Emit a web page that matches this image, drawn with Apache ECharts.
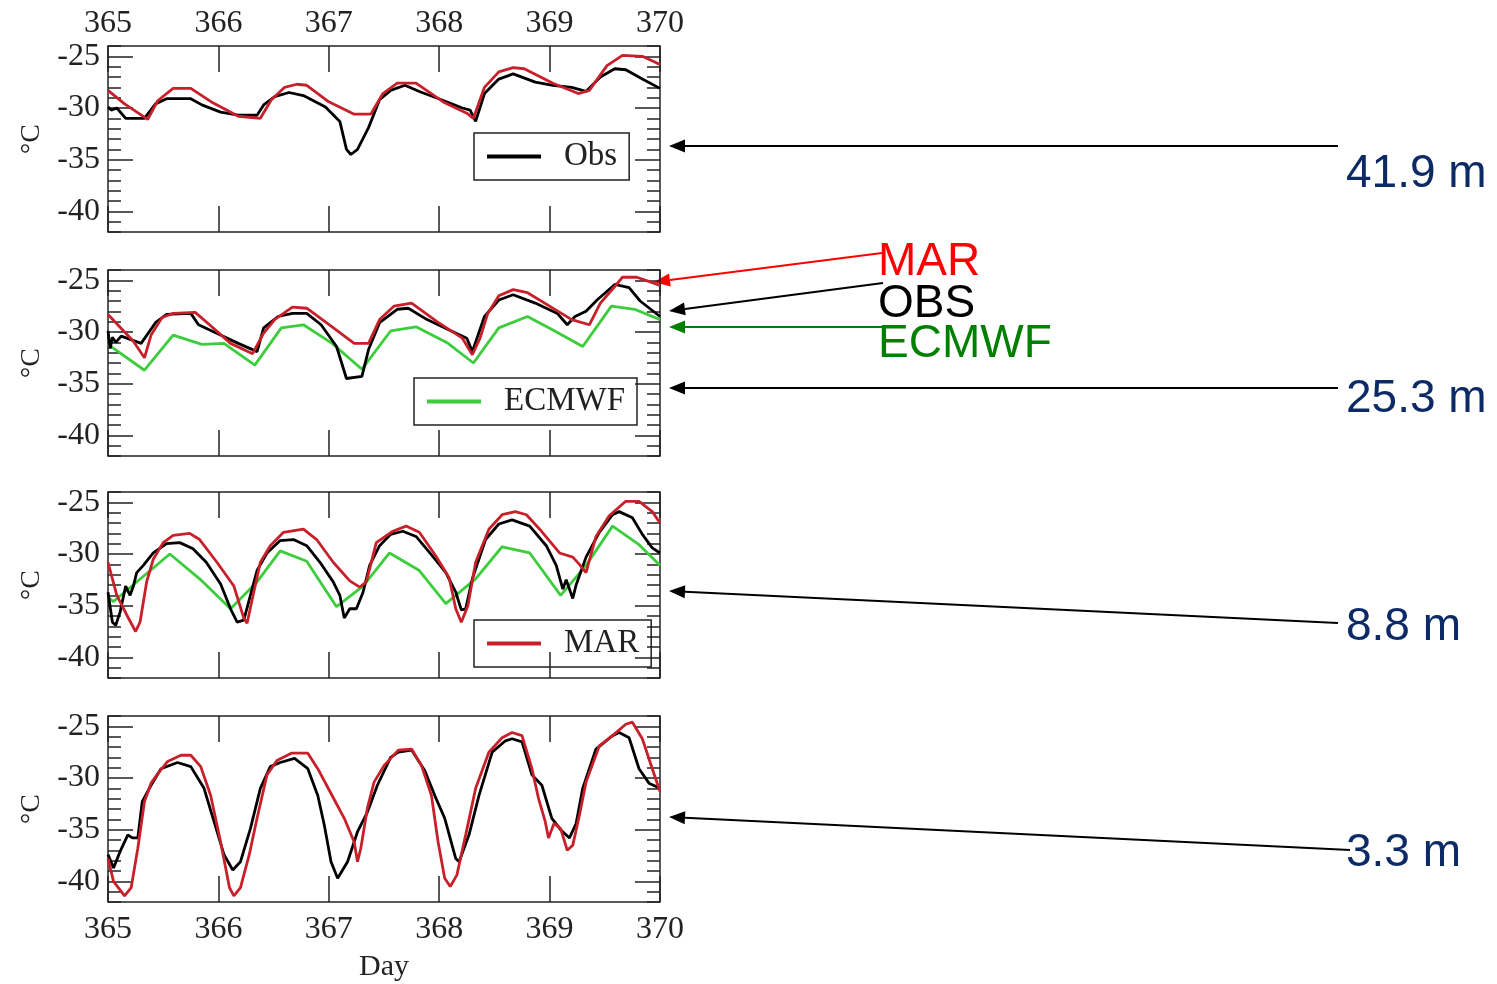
<!DOCTYPE html>
<html>
<head>
<meta charset="utf-8">
<script src="https://cdn.jsdelivr.net/npm/echarts/dist/echarts.min.js"></script>
<style>
  html, body { margin: 0; padding: 0; background: #fff; }
  #main { width: 1497px; height: 984px; }
</style>
</head>
<body>
<div id="main"></div>
<script>
// day axis and temperature ticks
var dayTicks = [365, 366, 367, 368, 369, 370];
var tempLabels = [-40, -35, -30, -25];
var depthLabels = ['41.9 m', '25.3 m', '8.8 m', '3.3 m'];

// 41.9 m
var p1Obs = [[365.00,-29.9],[365.03,-30.2],[365.08,-30.0],[365.16,-31.0],[365.33,-31.0],[365.43,-29.6],[365.53,-29.1],[365.75,-29.1],[365.85,-29.7],[366.02,-30.4],[366.18,-30.7],[366.35,-30.7],[366.41,-29.7],[366.51,-28.9],[366.64,-28.5],[366.77,-28.8],[366.97,-29.9],[367.10,-31.3],[367.16,-34.0],[367.20,-34.5],[367.26,-34.0],[367.36,-31.9],[367.46,-29.2],[367.56,-28.3],[367.69,-27.8],[367.82,-28.4],[368.02,-29.2],[368.21,-30.0],[368.28,-30.2],[368.33,-31.3],[368.41,-28.6],[368.54,-27.2],[368.67,-26.7],[368.87,-27.5],[369.03,-27.8],[369.20,-28.0],[369.33,-28.4],[369.46,-27.0],[369.59,-26.2],[369.69,-26.3],[369.84,-27.2],[370.00,-28.1]];
var p1Mar = [[365.00,-28.3],[365.15,-29.6],[365.36,-31.1],[365.45,-29.3],[365.59,-28.1],[365.75,-28.1],[365.95,-29.5],[366.18,-30.8],[366.38,-31.0],[366.48,-29.2],[366.60,-28.0],[366.71,-27.7],[366.80,-27.8],[367.00,-29.4],[367.23,-30.6],[367.38,-30.6],[367.49,-28.6],[367.62,-27.6],[367.79,-27.6],[368.05,-29.5],[368.25,-30.5],[368.31,-31.0],[368.41,-28.0],[368.54,-26.5],[368.67,-26.1],[368.77,-26.2],[369.03,-27.6],[369.26,-28.6],[369.36,-28.3],[369.52,-25.9],[369.66,-24.9],[369.84,-25.0],[370.00,-25.8]];

// 25.3 m
var p2Obs = [[365.00,-29.9],[365.02,-31.6],[365.04,-30.5],[365.07,-31.0],[365.12,-30.4],[365.30,-31.1],[365.43,-29.1],[365.53,-28.3],[365.75,-28.2],[365.82,-29.3],[365.98,-30.1],[366.18,-31.1],[366.35,-31.9],[366.41,-29.6],[366.54,-28.5],[366.67,-28.2],[366.80,-28.2],[366.93,-29.3],[367.07,-31.4],[367.16,-34.5],[367.30,-34.3],[367.36,-31.7],[367.46,-29.1],[367.62,-27.8],[367.72,-27.7],[367.89,-28.8],[368.11,-29.9],[368.25,-30.6],[368.30,-31.9],[368.41,-28.5],[368.54,-26.9],[368.67,-26.4],[368.87,-27.2],[369.07,-28.2],[369.16,-29.3],[369.23,-28.5],[369.33,-28.0],[369.43,-26.9],[369.59,-25.4],[369.72,-25.7],[369.82,-27.0],[370.00,-28.5]];
var p2Mar = [[365.00,-28.3],[365.23,-30.9],[365.33,-32.5],[365.39,-30.3],[365.49,-28.6],[365.59,-28.2],[365.79,-28.1],[365.92,-29.3],[366.11,-31.1],[366.31,-32.1],[366.41,-30.1],[366.51,-28.8],[366.67,-27.6],[366.80,-27.7],[367.03,-29.5],[367.23,-31.1],[367.36,-31.1],[367.46,-28.8],[367.59,-27.5],[367.75,-27.2],[367.98,-29.0],[368.21,-30.6],[368.30,-32.2],[368.37,-30.6],[368.44,-28.2],[368.54,-26.5],[368.67,-25.9],[368.80,-26.2],[369.00,-27.5],[369.20,-28.8],[369.36,-29.3],[369.46,-27.2],[369.59,-25.6],[369.66,-24.7],[369.79,-24.7],[369.95,-25.3],[370.00,-25.5]];
var p2Ecm = [[365.00,-31.2],[365.33,-33.7],[365.59,-30.3],[365.85,-31.2],[366.05,-31.1],[366.33,-33.2],[366.57,-29.6],[366.77,-29.3],[367.03,-31.1],[367.30,-33.6],[367.56,-29.9],[367.79,-29.5],[368.08,-31.1],[368.31,-33.0],[368.54,-29.6],[368.80,-28.5],[369.03,-29.8],[369.30,-31.4],[369.56,-27.5],[369.77,-27.8],[370.00,-28.8]];

// 8.8 m
var p3Obs = [[365.00,-33.7],[365.04,-36.6],[365.07,-36.9],[365.11,-35.6],[365.16,-33.1],[365.20,-34.0],[365.23,-33.1],[365.26,-31.8],[365.32,-31.1],[365.41,-29.9],[365.53,-29.0],[365.65,-28.9],[365.77,-29.5],[365.89,-30.8],[366.02,-32.9],[366.11,-35.3],[366.17,-36.6],[366.23,-36.4],[366.27,-34.8],[366.35,-31.6],[366.44,-29.9],[366.56,-28.7],[366.68,-28.6],[366.80,-29.2],[366.92,-30.8],[367.04,-32.7],[367.10,-34.0],[367.14,-36.2],[367.19,-35.3],[367.25,-35.3],[367.31,-33.7],[367.37,-31.1],[367.46,-29.2],[367.56,-28.1],[367.67,-27.8],[367.79,-28.3],[367.94,-30.2],[368.06,-31.8],[368.15,-33.7],[368.20,-35.4],[368.24,-35.3],[368.30,-32.4],[368.42,-28.6],[368.54,-27.1],[368.66,-26.7],[368.82,-27.3],[368.97,-29.2],[369.06,-31.1],[369.12,-33.4],[369.15,-32.5],[369.21,-34.3],[369.24,-33.0],[369.33,-30.3],[369.45,-27.9],[369.57,-26.2],[369.63,-25.9],[369.75,-26.5],[369.84,-28.1],[369.93,-29.4],[370.00,-29.9]];
var p3Mar = [[365.00,-30.8],[365.08,-34.0],[365.17,-35.9],[365.25,-37.5],[365.29,-36.6],[365.35,-32.7],[365.41,-30.5],[365.50,-28.9],[365.59,-28.2],[365.74,-28.0],[365.83,-28.6],[365.98,-30.7],[366.14,-33.1],[366.23,-36.2],[366.26,-36.7],[366.32,-33.7],[366.38,-30.8],[366.47,-29.2],[366.59,-27.9],[366.77,-27.6],[366.89,-28.6],[367.04,-30.8],[367.19,-32.6],[367.28,-33.2],[367.34,-32.7],[367.43,-28.9],[367.58,-27.8],[367.70,-27.3],[367.82,-27.9],[367.97,-30.2],[368.09,-32.3],[368.15,-35.3],[368.20,-36.6],[368.26,-35.0],[368.33,-30.8],[368.45,-27.6],[368.57,-26.2],[368.69,-25.9],[368.79,-26.2],[368.91,-27.6],[369.09,-29.9],[369.21,-30.3],[369.27,-31.0],[369.33,-31.8],[369.42,-28.3],[369.54,-26.3],[369.69,-24.9],[369.81,-24.9],[369.93,-25.9],[370.00,-27.0]];
var p3Ecm = [[365.00,-34.2],[365.05,-34.6],[365.56,-30.0],[365.83,-32.4],[366.11,-35.3],[366.35,-32.7],[366.56,-29.7],[366.80,-30.7],[367.07,-35.1],[367.31,-33.1],[367.55,-29.9],[367.82,-31.6],[368.06,-34.8],[368.33,-32.4],[368.57,-29.3],[368.82,-29.9],[369.10,-34.0],[369.33,-31.1],[369.57,-27.3],[369.81,-29.1],[370.00,-31.1]];

// 3.3 m
var p4Obs = [[365.00,-37.4],[365.05,-38.7],[365.11,-37.1],[365.18,-35.5],[365.22,-35.8],[365.27,-35.8],[365.31,-32.3],[365.39,-30.7],[365.48,-29.1],[365.63,-28.5],[365.75,-28.9],[365.87,-31.0],[365.96,-34.2],[366.05,-37.4],[366.13,-38.9],[366.20,-38.1],[366.29,-34.9],[366.38,-31.0],[366.47,-28.9],[366.56,-28.5],[366.69,-28.1],[366.81,-29.1],[366.90,-31.7],[366.96,-34.6],[367.02,-38.1],[367.08,-39.7],[367.17,-38.1],[367.26,-35.2],[367.35,-33.3],[367.44,-30.7],[367.56,-28.0],[367.63,-27.5],[367.75,-27.3],[367.87,-29.3],[367.96,-31.7],[368.05,-33.9],[368.15,-37.8],[368.18,-38.1],[368.27,-35.5],[368.36,-31.7],[368.48,-27.5],[368.60,-26.4],[368.66,-26.2],[368.75,-26.5],[368.84,-29.7],[368.93,-30.7],[369.02,-33.9],[369.10,-35.0],[369.18,-35.8],[369.24,-34.4],[369.30,-31.0],[369.42,-27.2],[369.57,-25.9],[369.63,-25.6],[369.72,-26.1],[369.81,-29.1],[369.90,-30.5],[370.00,-31.0]];
var p4Mar = [[365.00,-37.8],[365.05,-40.0],[365.15,-41.4],[365.21,-40.6],[365.27,-36.8],[365.33,-32.3],[365.39,-30.5],[365.45,-29.6],[365.54,-28.4],[365.66,-27.8],[365.75,-27.8],[365.84,-28.9],[365.93,-31.7],[366.02,-36.2],[366.10,-40.6],[366.14,-41.4],[366.20,-40.6],[366.28,-37.4],[366.35,-33.9],[366.44,-29.7],[366.53,-28.3],[366.66,-27.6],[366.81,-27.6],[366.90,-29.1],[367.02,-31.5],[367.14,-33.9],[367.23,-36.2],[367.26,-38.1],[367.29,-36.8],[367.35,-32.9],[367.41,-30.4],[367.50,-28.8],[367.63,-27.3],[367.75,-27.2],[367.84,-28.8],[367.93,-31.7],[367.99,-36.2],[368.05,-39.7],[368.10,-40.5],[368.16,-39.4],[368.24,-35.5],[368.33,-31.0],[368.45,-27.5],[368.57,-26.1],[368.66,-25.6],[368.75,-25.9],[368.84,-29.1],[368.90,-32.0],[368.96,-34.2],[368.99,-35.8],[369.04,-34.4],[369.10,-34.9],[369.16,-37.0],[369.21,-36.5],[369.27,-33.6],[369.33,-30.4],[369.45,-26.9],[369.57,-25.9],[369.69,-24.8],[369.75,-24.6],[369.84,-26.2],[369.93,-29.1],[370.00,-31.3]];

var panels = [
  { obs: p1Obs, mar: p1Mar, ecm: null },
  { obs: p2Obs, mar: p2Mar, ecm: p2Ecm },
  { obs: p3Obs, mar: p3Mar, ecm: p3Ecm },
  { obs: p4Obs, mar: p4Mar, ecm: null }
];

var OBS_COLOR = '#000000';
var MAR_COLOR = '#c8202a';
var ECM_COLOR = '#3ccc3c';
var SERIF = "'Liberation Serif', 'DejaVu Serif', serif";
var SANS = "'Liberation Sans', Arial, sans-serif";
var FRAME = '#222';

var tops = [46, 270, 492, 716];
var grids = [], xAxes = [], yAxes = [], series = [];

tops.forEach(function (top, i) {
  grids.push({ left: 108, right: 837, top: top, height: 186, show: true,
    borderColor: FRAME, borderWidth: 1.5, backgroundColor: 'transparent' });

  ['bottom', 'top'].forEach(function (pos) {
    var showLab = (pos === 'bottom' && i === 3) || (pos === 'top' && i === 0);
    xAxes.push({
      type: 'value', gridIndex: i, position: pos, min: dayTicks[0], max: dayTicks[dayTicks.length - 1], interval: 1,
      axisLine: { show: false },
      axisTick: { show: true, inside: true, length: 26, lineStyle: { color: FRAME, width: 1.5 } },
      axisLabel: { show: showLab, margin: pos === 'top' ? 6 : 12, fontFamily: SERIF, fontSize: 32, color: '#222' },
      splitLine: { show: false },
      name: (pos === 'bottom' && i === 3) ? 'Day' : '',
      nameLocation: 'middle', nameGap: 50,
      nameTextStyle: { fontFamily: SERIF, fontSize: 30, color: '#222' }
    });
  });

  ['left', 'right'].forEach(function (pos) {
    // minor ticks every 1 degree
    yAxes.push({
      type: 'value', gridIndex: i, position: pos, min: -42, max: -24, interval: 1,
      axisLine: { show: false },
      axisTick: { show: true, inside: true, length: 13, lineStyle: { color: FRAME, width: 1.5 } },
      axisLabel: { show: pos === 'left', margin: 8, fontFamily: SERIF, fontSize: 32, color: '#222',
        formatter: function (v) { return tempLabels.indexOf(v) >= 0 ? String(v) : ''; } },
      splitLine: { show: false },
      name: pos === 'left' ? '°C' : '', nameLocation: 'middle', nameGap: 62,
      nameTextStyle: { fontFamily: SERIF, fontSize: 28, color: '#222' }
    });
    // major ticks every 5 degrees
    yAxes.push({
      type: 'value', gridIndex: i, position: pos, min: -42, max: -24,
      axisLine: { show: false },
      axisTick: { show: true, inside: true, length: 25, customValues: tempLabels, lineStyle: { color: FRAME, width: 1.5 } },
      axisLabel: { show: false },
      splitLine: { show: false }
    });
  });

  var p = panels[i];
  function line(name, data, color) {
    series.push({
      name: name, type: 'line', xAxisIndex: 2 * i, yAxisIndex: 4 * i, data: data,
      showSymbol: false, symbol: 'none', color: color,
      lineStyle: { color: color, width: 2.8 }, itemStyle: { color: color }
    });
  }
  if (p.ecm) line('ECMWF', p.ecm, ECM_COLOR);
  line('Obs', p.obs, OBS_COLOR);
  line('MAR', p.mar, MAR_COLOR);
});

function legendBox(name, left, top, textPad) {
  return {
    data: [name], left: left, top: top, orient: 'horizontal',
    icon: 'rect', itemWidth: 54, itemHeight: 4,
    padding: [7, 12, 7, 13], borderColor: FRAME, borderWidth: 1.5,
    selectedMode: false,
    textStyle: { fontFamily: SERIF, fontSize: 33, color: '#222', padding: [0, 0, 0, textPad], lineHeight: 32 }
  };
}

// annotation arrows (slide overlay)
function arrow(x1, y1, x2, y2, color) {
  var dx = x2 - x1, dy = y2 - y1, len = Math.sqrt(dx * dx + dy * dy);
  var ux = dx / len, uy = dy / len, hl = 16, hw = 6.5;
  var bx = x2 - ux * hl, by = y2 - uy * hl;
  return [
    { type: 'line', silent: true, shape: { x1: x1, y1: y1, x2: bx, y2: by }, style: { stroke: color, lineWidth: 2 } },
    { type: 'polygon', silent: true, shape: { points: [[x2, y2], [bx - uy * hw, by + ux * hw], [bx + uy * hw, by - ux * hw]] }, style: { fill: color } }
  ];
}
function label(text, x, y, color) {
  return { type: 'text', silent: true, x: x, y: y,
    style: { text: text, fill: color, font: '46px ' + SANS, verticalAlign: 'middle', align: 'left' } };
}

var NAVY = '#0c2a66';
var graphics = []
  .concat(arrow(1338, 146, 669, 146, '#000'))
  .concat(arrow(1338, 388, 669, 388, '#000'))
  .concat(arrow(1338, 623, 669, 591, '#000'))
  .concat(arrow(1350, 850, 669, 817, '#000'))
  .concat(arrow(882, 253, 654, 282, '#ff0000'))
  .concat(arrow(883, 283, 669, 311, '#000'))
  .concat(arrow(883, 327, 669, 327, '#008000'));
graphics.push(label(depthLabels[0], 1346, 174, NAVY));
graphics.push(label(depthLabels[1], 1346, 399, NAVY));
graphics.push(label(depthLabels[2], 1346, 627, NAVY));
graphics.push(label(depthLabels[3], 1346, 853, NAVY));
graphics.push(label('MAR', 878, 262, '#ff0000'));
graphics.push(label('OBS', 878, 304, '#000000'));
graphics.push(label('ECMWF', 878, 344, '#008000'));

var chart = echarts.init(document.getElementById('main'));
chart.setOption({
  animation: false,
  backgroundColor: '#ffffff',
  grid: grids,
  xAxis: xAxes,
  yAxis: yAxes,
  legend: [
    legendBox('Obs', 474, 133, 18),
    legendBox('ECMWF', 414, 378, 18),
    legendBox('MAR', 474, 620, 18)
  ],
  series: series,
  graphic: graphics
});
</script>
</body>
</html>
